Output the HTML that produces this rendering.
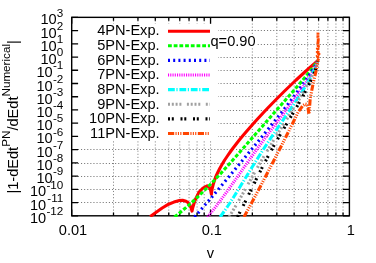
<!DOCTYPE html><html><head><meta charset="utf-8"><style>html,body{margin:0;padding:0;background:#fff;width:376px;height:263px;overflow:hidden}</style></head><body><svg width="376" height="263" viewBox="0 0 376 263" style="position:absolute;left:0;top:0;font-family:'Liberation Sans',sans-serif">
<rect width="376" height="263" fill="#fff"/>
<path d="M71.7 202.50H349.4 M71.7 189.50H349.4 M71.7 176.50H349.4 M71.7 163.50H349.4 M71.7 149.50H349.4 M71.7 136.50H349.4 M71.7 123.50H349.4 M71.7 110.50H349.4 M71.7 96.50H349.4 M71.7 83.50H349.4 M71.7 70.50H349.4 M71.7 57.50H349.4 M71.7 44.50H349.4 M71.7 30.50H349.4" stroke="#6a6a6a" stroke-width="0.9" stroke-dasharray="1.1 2" fill="none"/>
<path d="M113.50 17.35V215.8 M137.95 17.35V215.8 M155.30 17.35V215.8 M168.75 17.35V215.8 M179.75 17.35V215.8 M189.04 17.35V215.8 M197.09 17.35V215.8 M204.20 17.35V215.8 M252.35 17.35V215.8 M276.80 17.35V215.8 M294.15 17.35V215.8 M307.60 17.35V215.8 M318.60 17.35V215.8 M327.89 17.35V215.8 M335.94 17.35V215.8 M343.05 17.35V215.8 M210.55 17.35V215.8" stroke="#777" stroke-width="0.9" stroke-dasharray="1.1 2" fill="none"/>
<rect x="210" y="36.5" width="46.5" height="11.5" fill="#fff"/>
<rect x="71.7" y="24" width="146.3" height="117" fill="#fff"/>
<path d="M71.7 215.80h6.4 M349.4 215.80h-6.4 M71.7 202.57h6.4 M349.4 202.57h-6.4 M71.7 189.34h6.4 M349.4 189.34h-6.4 M71.7 176.11h6.4 M349.4 176.11h-6.4 M71.7 162.88h6.4 M349.4 162.88h-6.4 M71.7 149.65h6.4 M349.4 149.65h-6.4 M71.7 136.42h6.4 M349.4 136.42h-6.4 M71.7 123.19h6.4 M349.4 123.19h-6.4 M71.7 109.96h6.4 M349.4 109.96h-6.4 M71.7 96.73h6.4 M349.4 96.73h-6.4 M71.7 83.50h6.4 M349.4 83.50h-6.4 M71.7 70.27h6.4 M349.4 70.27h-6.4 M71.7 57.04h6.4 M349.4 57.04h-6.4 M71.7 43.81h6.4 M349.4 43.81h-6.4 M71.7 30.58h6.4 M349.4 30.58h-6.4 M71.7 17.35h6.4 M349.4 17.35h-6.4 M71.70 215.8v-6.4 M71.70 17.35v6.4 M113.50 215.8v-3.3 M113.50 17.35v3.3 M137.95 215.8v-3.3 M137.95 17.35v3.3 M155.30 215.8v-3.3 M155.30 17.35v3.3 M168.75 215.8v-3.3 M168.75 17.35v3.3 M179.75 215.8v-3.3 M179.75 17.35v3.3 M189.04 215.8v-3.3 M189.04 17.35v3.3 M197.09 215.8v-3.3 M197.09 17.35v3.3 M204.20 215.8v-3.3 M204.20 17.35v3.3 M210.55 215.8v-6.4 M210.55 17.35v6.4 M252.35 215.8v-3.3 M252.35 17.35v3.3 M276.80 215.8v-3.3 M276.80 17.35v3.3 M294.15 215.8v-3.3 M294.15 17.35v3.3 M307.60 215.8v-3.3 M307.60 17.35v3.3 M318.60 215.8v-3.3 M318.60 17.35v3.3 M327.89 215.8v-3.3 M327.89 17.35v3.3 M335.94 215.8v-3.3 M335.94 17.35v3.3 M343.05 215.8v-3.3 M343.05 17.35v3.3" stroke="#000" stroke-width="1.3" fill="none"/>
<rect x="71.7" y="17.35" width="277.7" height="198.45000000000002" fill="none" stroke="#000" stroke-width="1.4"/>
<clipPath id="c"><rect x="71.7" y="17.35" width="277.7" height="199.65"/></clipPath>
<g clip-path="url(#c)" fill="none" stroke-width="3.1">
<path d="M150.3 216.6 L151.0 215.9 L155.5 212.7 L162.2 208.0 L168.6 204.2 L173.9 202.1 L179.4 200.5 L182.6 200.2 L186.0 201.2 L188.0 202.6 L190.0 205.5 L191.3 208.5 L192.0 211.1 L192.8 207.5 L194.9 200.5 L198.0 194.1 L199.1 192.0 L203.0 188.0 L207.2 185.8 L209.5 187.5 L210.7 190.5 L211.4 194.3 L211.6 192.0 L212.3 188.0 L213.3 184.0 L214.6 180.0 L216.1 176.0 L218.0 172.0 L220.0 168.0 L222.3 164.0 L224.7 160.0 L227.4 156.0 L230.2 152.0 L233.1 148.0 L236.2 144.0 L239.3 140.0 L242.6 136.0 L246.0 132.0 L249.5 128.0 L253.0 124.0 L256.6 120.0 L260.3 116.0 L264.0 112.0 L267.8 108.0 L271.7 104.0 L275.6 100.0 L279.6 96.0 L283.6 92.0 L287.7 88.0 L291.9 84.0 L296.1 80.0 L300.5 76.0 L304.9 72.0 L309.4 68.0 L314.1 64.0 L317.8 60.7" stroke="#ff0000" stroke-linejoin="round"/>
<path d="M174.5 217.0 L180.7 212.0 L186.6 207.0 L192.3 202.0 L197.7 197.0 L202.8 192.0 L207.8 187.0 L212.7 182.0 L217.4 177.0 L222.1 172.0 L226.6 167.0 L231.1 162.0 L235.5 157.0 L239.9 152.0 L244.3 147.0 L248.6 142.0 L253.0 137.0 L257.4 132.0 L261.8 127.0 L266.1 122.0 L270.5 117.0 L274.9 112.0 L279.3 107.0 L283.7 102.0 L288.1 97.0 L292.5 92.0 L296.8 87.0 L301.1 82.0 L305.3 77.0 L309.4 72.0 L313.4 67.0 L317.8 60.7" stroke="#00ff00" stroke-dasharray="3.8 1.9" stroke-linejoin="round"/>
<path d="M194.4 217.0 L198.9 212.0 L203.2 207.0 L207.6 202.0 L211.9 197.0 L216.1 192.0 L220.3 187.0 L224.5 182.0 L228.7 177.0 L232.9 172.0 L237.0 167.0 L241.2 162.0 L245.3 157.0 L249.4 152.0 L253.5 147.0 L257.7 142.0 L261.7 137.0 L265.8 132.0 L269.9 127.0 L273.9 122.0 L277.9 117.0 L281.9 112.0 L285.8 107.0 L289.7 102.0 L293.5 97.0 L297.2 92.0 L300.9 87.0 L304.5 82.0 L308.0 77.0 L311.3 72.0 L314.6 67.0 L317.8 60.7" stroke="#0000ff" stroke-dasharray="2 3.2" stroke-linejoin="round"/>
<path d="M207.5 217.0 L211.6 212.0 L215.5 207.0 L219.3 202.0 L223.0 197.0 L226.7 192.0 L230.2 187.0 L233.8 182.0 L237.3 177.0 L240.8 172.0 L244.3 167.0 L247.8 162.0 L251.3 157.0 L254.9 152.0 L258.5 147.0 L262.2 142.0 L265.9 137.0 L269.6 132.0 L273.4 127.0 L277.2 122.0 L281.0 117.0 L284.8 112.0 L288.5 107.0 L292.2 102.0 L295.9 97.0 L299.5 92.0 L303.0 87.0 L306.3 82.0 L309.5 77.0 L312.5 72.0 L315.2 67.0 L317.8 60.7" stroke="#ff00ff" stroke-dasharray="1.1 1.15" stroke-linejoin="round"/>
<path d="M220.2 217.0 L223.7 212.0 L227.2 207.0 L230.5 202.0 L233.7 197.0 L236.8 192.0 L239.9 187.0 L243.0 182.0 L246.1 177.0 L249.1 172.0 L252.2 167.0 L255.4 162.0 L258.5 157.0 L261.7 152.0 L264.9 147.0 L268.2 142.0 L271.5 137.0 L274.9 132.0 L278.3 127.0 L281.7 122.0 L285.1 117.0 L288.6 112.0 L292.0 107.0 L295.3 102.0 L298.6 97.0 L301.9 92.0 L305.0 87.0 L308.0 82.0 L310.8 77.0 L313.4 72.0 L315.8 67.0 L317.8 60.7" stroke="#00ffff" stroke-dasharray="6.8 1.6 1.2 1.8" stroke-linejoin="round"/>
<path d="M229.1 217.0 L232.1 212.0 L235.1 207.0 L238.0 202.0 L240.9 197.0 L243.7 192.0 L246.5 187.0 L249.3 182.0 L252.1 177.0 L254.9 172.0 L257.8 167.0 L260.7 162.0 L263.6 157.0 L266.6 152.0 L269.6 147.0 L272.6 142.0 L275.7 137.0 L278.8 132.0 L281.9 127.0 L285.0 122.0 L288.2 117.0 L291.3 112.0 L294.4 107.0 L297.5 102.0 L300.5 97.0 L303.4 92.0 L306.2 87.0 L308.9 82.0 L311.5 77.0 L313.9 72.0 L316.1 67.0 L317.8 60.7" stroke="#a0a0a0" stroke-dasharray="2 1.8 2 1.8 2 1.8 2 5.5" stroke-linejoin="round"/>
<path d="M237.4 217.0 L240.0 212.0 L242.6 207.0 L245.1 202.0 L247.5 197.0 L250.0 192.0 L252.4 187.0 L254.9 182.0 L257.3 177.0 L259.9 172.0 L262.4 167.0 L265.0 162.0 L267.7 157.0 L270.4 152.0 L273.2 147.0 L276.0 142.0 L278.9 137.0 L281.8 132.0 L284.8 127.0 L287.8 122.0 L290.7 117.0 L293.7 112.0 L296.7 107.0 L299.6 102.0 L302.4 97.0 L305.1 92.0 L307.7 87.0 L310.2 82.0 L312.5 77.0 L314.6 72.0 L316.5 67.0 L317.8 60.7" stroke="#000000" stroke-dasharray="2 1.8 2 6.7" stroke-linejoin="round"/>
<path d="M244.0 217.0 L246.7 212.0 L249.4 207.0 L252.1 202.0 L254.8 197.0 L257.4 192.0 L260.1 187.0 L262.7 182.0 L265.3 177.0 L267.9 172.0 L270.5 167.0 L273.1 162.0 L275.7 157.0 L278.2 152.0 L280.8 147.0 L283.3 142.0 L285.8 137.0 L288.3 132.0 L290.8 127.0 L293.3 122.0 L295.8 117.0 L298.2 112.0 L303.0 105.5 L305.3 104.0 L306.8 104.3 L308.0 108.0 L308.9 114.0 L309.5 108.0 L310.1 100.0 L310.7 96.0 L313.1 83.5 L316.3 70.0 L317.8 60.7" stroke="#ff4500" stroke-dasharray="6.2 1.3 1.1 1.3 1.1 1.3 1.1 1.5" stroke-linejoin="round"/>
<path d="M317.8 61.0 L318.6 58.5 L317.3 56.0 L318.9 54.0 L317.4 52.0 L318.8 50.0 L317.5 48.5 L318.4 46.5 L317.8 44.0 L318.3 40.0 L317.9 37.0 L318.0 32.6" stroke="#ff4500" stroke-width="2.9" stroke-dasharray="2.5 0.5 3 0.5 6 0.5"/>
</g>
<g opacity="0.999" style="will-change:transform">
<text x="159.6" y="35.30" font-size="14.6" text-anchor="end">4PN-Exp.</text>
<text x="159.6" y="49.98" font-size="14.6" text-anchor="end">5PN-Exp.</text>
<text x="159.6" y="64.66" font-size="14.6" text-anchor="end">6PN-Exp.</text>
<text x="159.6" y="79.34" font-size="14.6" text-anchor="end">7PN-Exp.</text>
<text x="159.6" y="94.02" font-size="14.6" text-anchor="end">8PN-Exp.</text>
<text x="159.6" y="108.70" font-size="14.6" text-anchor="end">9PN-Exp.</text>
<text x="159.6" y="123.38" font-size="14.6" text-anchor="end">10PN-Exp.</text>
<text x="159.6" y="138.06" font-size="14.6" text-anchor="end">11PN-Exp.</text>
<text x="210.5" y="46" font-size="14.6">q=0.90</text>
<text x="46.22" y="222.80" font-size="14.6" text-anchor="end">10</text>
<text x="63.3" y="215.00" font-size="11.68" text-anchor="end">-12</text>
<text x="46.22" y="209.57" font-size="14.6" text-anchor="end">10</text>
<text x="63.3" y="201.77" font-size="11.68" text-anchor="end">-11</text>
<text x="46.22" y="196.34" font-size="14.6" text-anchor="end">10</text>
<text x="63.3" y="188.54" font-size="11.68" text-anchor="end">-10</text>
<text x="52.72" y="183.11" font-size="14.6" text-anchor="end">10</text>
<text x="63.3" y="175.31" font-size="11.68" text-anchor="end">-9</text>
<text x="52.72" y="169.88" font-size="14.6" text-anchor="end">10</text>
<text x="63.3" y="162.08" font-size="11.68" text-anchor="end">-8</text>
<text x="52.72" y="156.65" font-size="14.6" text-anchor="end">10</text>
<text x="63.3" y="148.85" font-size="11.68" text-anchor="end">-7</text>
<text x="52.72" y="143.42" font-size="14.6" text-anchor="end">10</text>
<text x="63.3" y="135.62" font-size="11.68" text-anchor="end">-6</text>
<text x="52.72" y="130.19" font-size="14.6" text-anchor="end">10</text>
<text x="63.3" y="122.39" font-size="11.68" text-anchor="end">-5</text>
<text x="52.72" y="116.96" font-size="14.6" text-anchor="end">10</text>
<text x="63.3" y="109.16" font-size="11.68" text-anchor="end">-4</text>
<text x="52.72" y="103.73" font-size="14.6" text-anchor="end">10</text>
<text x="63.3" y="95.93" font-size="11.68" text-anchor="end">-3</text>
<text x="52.72" y="90.50" font-size="14.6" text-anchor="end">10</text>
<text x="63.3" y="82.70" font-size="11.68" text-anchor="end">-2</text>
<text x="52.72" y="77.27" font-size="14.6" text-anchor="end">10</text>
<text x="63.3" y="69.47" font-size="11.68" text-anchor="end">-1</text>
<text x="56.61" y="64.04" font-size="14.6" text-anchor="end">10</text>
<text x="63.3" y="56.24" font-size="11.68" text-anchor="end">0</text>
<text x="56.61" y="50.81" font-size="14.6" text-anchor="end">10</text>
<text x="63.3" y="43.01" font-size="11.68" text-anchor="end">1</text>
<text x="56.61" y="37.58" font-size="14.6" text-anchor="end">10</text>
<text x="63.3" y="29.78" font-size="11.68" text-anchor="end">2</text>
<text x="56.61" y="24.35" font-size="14.6" text-anchor="end">10</text>
<text x="63.3" y="16.55" font-size="11.68" text-anchor="end">3</text>
<text x="73.00" y="235.4" font-size="14.6" text-anchor="middle">0.01</text>
<text x="211.85" y="235.4" font-size="14.6" text-anchor="middle">0.1</text>
<text x="350.70" y="235.4" font-size="14.6" text-anchor="middle">1</text>
<text x="210.5" y="257.6" font-size="14.6" text-anchor="middle">v</text>
<text transform="translate(17.8,116.9) rotate(-90)" font-size="14.6" text-anchor="middle">|1-dEdt<tspan dy="-7.8" font-size="11.68">PN</tspan><tspan dy="7.8">/dEdt</tspan><tspan dy="-7.8" font-size="11.68">Numerical</tspan><tspan dy="7.8">|</tspan></text>
</g>
<path d="M168 31.20H210" stroke="#ff0000" stroke-width="3.1" fill="none"/>
<path d="M168 45.81H210" stroke="#00ff00" stroke-width="3.1" stroke-dasharray="3.8 1.9" fill="none"/>
<path d="M168 60.42H210" stroke="#0000ff" stroke-width="3.1" stroke-dasharray="2 3.2" fill="none"/>
<path d="M168 75.03H210" stroke="#ff00ff" stroke-width="3.1" stroke-dasharray="1.1 1.15" fill="none"/>
<path d="M168 89.64H210" stroke="#00ffff" stroke-width="3.1" stroke-dasharray="6.8 1.6 1.2 1.8" fill="none"/>
<path d="M168 104.25H210" stroke="#a0a0a0" stroke-width="3.1" stroke-dasharray="2 1.8 2 1.8 2 1.8 2 5.5" fill="none"/>
<path d="M168 118.86H210" stroke="#000000" stroke-width="3.1" stroke-dasharray="2 1.8 2 6.7" fill="none"/>
<path d="M168 133.47H210" stroke="#ff4500" stroke-width="3.1" stroke-dasharray="6.2 1.3 1.1 1.3 1.1 1.3 1.1 1.5" fill="none"/>
</svg></body></html>
